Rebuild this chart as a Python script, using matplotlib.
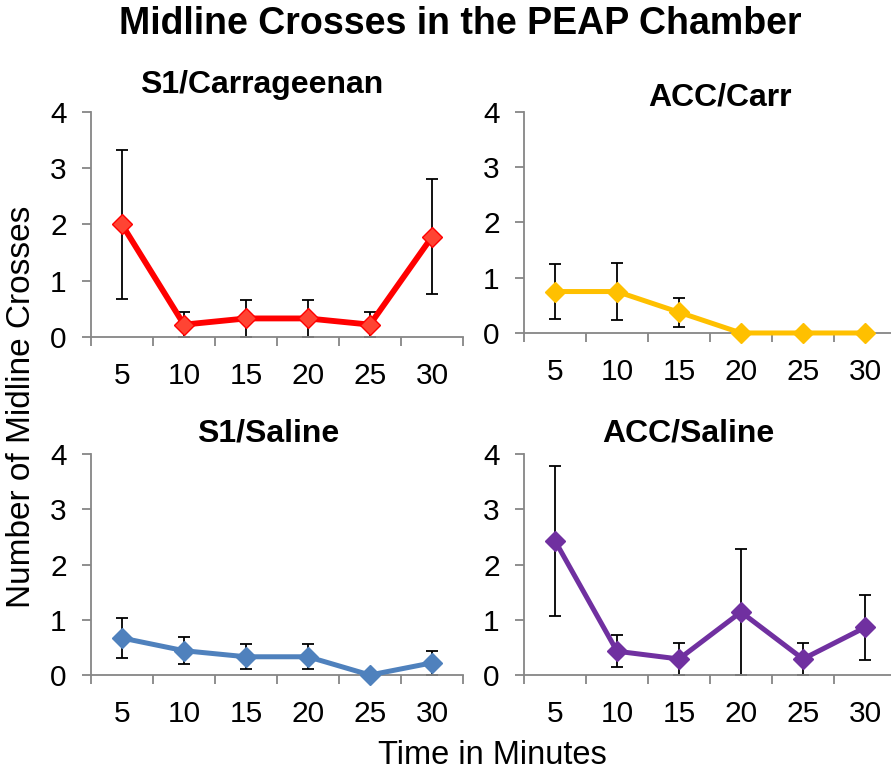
import matplotlib.pyplot as plt
import numpy as np

plt.rcParams['font.family'] = ['Liberation Sans', 'DejaVu Sans']

# datos
minutos = ['5', '10', '15', '20', '25', '30']

s1_carr = [2.0, 0.22, 0.33, 0.33, 0.22, 1.78]
s1_carr_err = [1.33, 0.22, 0.33, 0.33, 0.22, 1.02]

acc_carr = [0.75, 0.75, 0.375, 0.0, 0.0, 0.0]
acc_carr_err = [0.49, 0.52, 0.26, 0.0, 0.0, 0.0]

s1_sal = [0.67, 0.44, 0.33, 0.33, 0.0, 0.22]
s1_sal_err = [0.37, 0.245, 0.23, 0.23, 0.0, 0.22]

acc_sal = [2.43, 0.43, 0.29, 1.14, 0.29, 0.86]
acc_sal_err = [1.36, 0.29, 0.29, 1.14, 0.29, 0.59]

paneles = [
    ('S1/Carrageenan', s1_carr, s1_carr_err, '#FF0000', '#FF4433', 4.2,
     [0.1021, 0.5646, 0.4175, 0.2907], (262, 85)),
    ('ACC/Carr', acc_carr, acc_carr_err, '#FFC000', '#FFC000', 3.6,
     [0.5881, 0.5698, 0.4175, 0.2855], (720, 98)),
    ('S1/Saline', s1_sal, s1_sal_err, '#4F81BD', '#4F81BD', 3.6,
     [0.1021, 0.1279, 0.4175, 0.2855], (268, 433)),
    ('ACC/Saline', acc_sal, acc_sal_err, '#7030A0', '#7030A0', 3.6,
     [0.5881, 0.1279, 0.4175, 0.2855], (688, 433)),
]

W, H = 891, 774
fig = plt.figure(figsize=(W / 100, H / 100), dpi=100)

for titulo, vals, errs, color, relleno, grosor, pos, tpos in paneles:
    ax = fig.add_axes(pos)
    x = np.arange(len(minutos)) + 0.5
    ax.errorbar(x, vals, yerr=errs, fmt='none', ecolor='black',
                elinewidth=1.3, capsize=4.5, capthick=1.3, zorder=2, clip_on=False)
    ax.plot(x, vals, color=color, linewidth=grosor, marker='D', markersize=10.5,
            markerfacecolor=relleno, markeredgecolor=color, markeredgewidth=1,
            zorder=3, clip_on=False)
    ax.set_xlim(0, 6)
    ax.set_ylim(0, 4)
    ax.set_xticks(np.arange(0, 7))
    ax.set_xticklabels([])
    ax.set_xticks(x, minor=True)
    ax.set_xticklabels(minutos, minor=True)
    ax.set_yticks([0, 1, 2, 3, 4])
    ax.tick_params(axis='x', which='major', length=6.5, width=1.3, color='#868686', direction='out')
    ax.tick_params(axis='x', which='minor', length=0, pad=18, labelsize=21.5)
    ax.tick_params(axis='y', length=6.5, width=1.3, color='#868686', labelsize=21.5, pad=11)
    for lado in ['top', 'right']:
        ax.spines[lado].set_visible(False)
    for lado in ['left', 'bottom']:
        ax.spines[lado].set_color('#868686')
        ax.spines[lado].set_linewidth(1.3)
    ax.set_facecolor('none')
    fig.text(tpos[0] / W, 1 - tpos[1] / H, titulo, fontsize=23, fontweight='bold',
             ha='center', va='center')

fig.text(460 / W, 1 - 24 / H, 'Midline Crosses in the PEAP Chamber', fontsize=27,
         fontweight='bold', ha='center', va='center')
fig.text(22 / W, 1 - 407 / H, 'Number of Midline Crosses', fontsize=24,
         rotation=90, ha='center', va='center')
fig.text(492 / W, 1 - 755 / H, 'Time in Minutes', fontsize=23.5, ha='center', va='center')

plt.savefig('out.png', dpi=100)
